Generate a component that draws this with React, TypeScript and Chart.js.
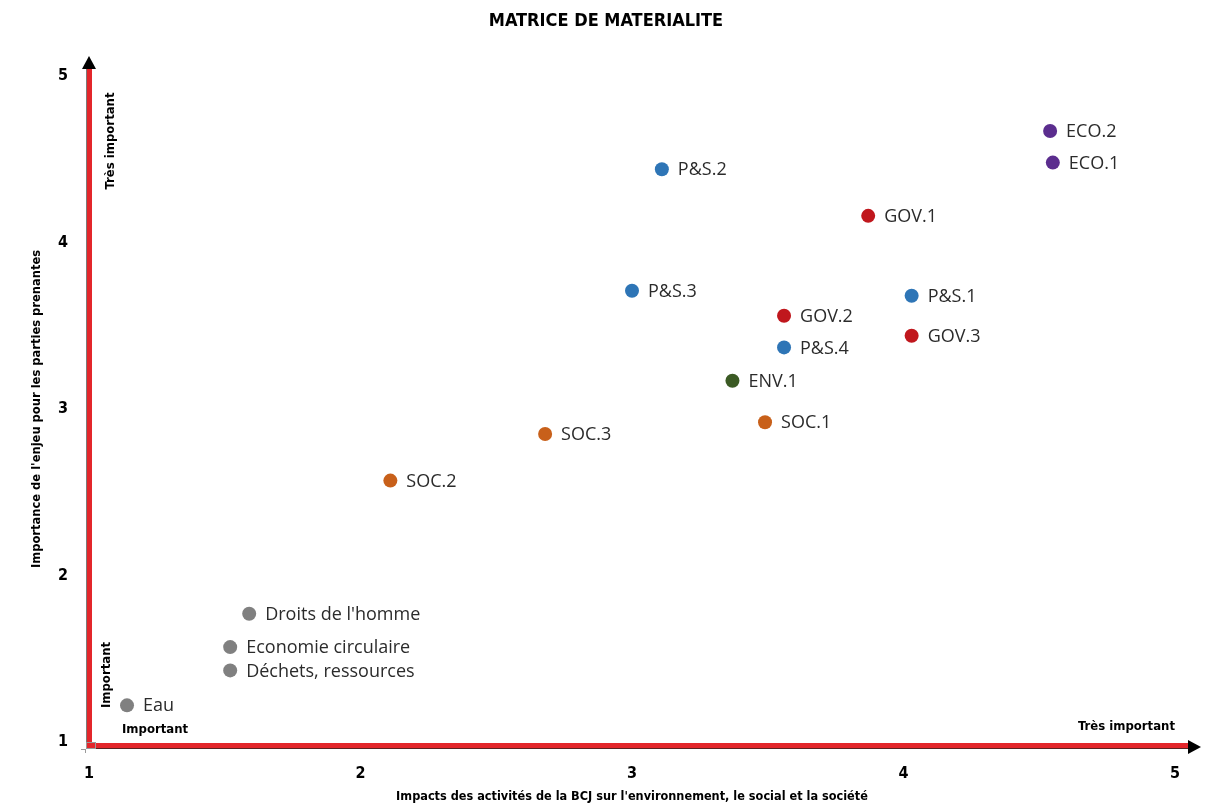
import React, { useEffect, useRef } from "react";
import { Chart, registerables } from "chart.js";

Chart.register(...registerables);

const pointNames = [
  "ECO.2", "ECO.1", "P&S.2", "GOV.1", "P&S.3", "P&S.1", "GOV.2", "GOV.3", "P&S.4",
  "ENV.1", "SOC.1", "SOC.3", "SOC.2", "Droits de l'homme", "Economie circulaire",
  "Déchets, ressources", "Eau",
];
const impactValues = [4.54, 4.55, 3.11, 3.87, 3.0, 4.03, 3.56, 4.03, 3.56, 3.37, 3.49, 2.68, 2.11, 1.59, 1.52, 1.52, 1.14];
const importanceValues = [4.67, 4.48, 4.44, 4.16, 3.71, 3.68, 3.56, 3.44, 3.37, 3.17, 2.92, 2.85, 2.57, 1.77, 1.57, 1.43, 1.22];
const pointGroups = ["ECO", "ECO", "PS", "GOV", "PS", "PS", "GOV", "GOV", "PS", "ENV", "SOC", "SOC", "SOC", "OTH", "OTH", "OTH", "OTH"];

const groupKeys = ["ECO", "PS", "GOV", "ENV", "SOC", "OTH"];
const groupColors = ["#5b2d8e", "#2e75b6", "#c0171d", "#3b5a24", "#c8601a", "#808080"];

const xTickLabels = ["1", "2", "3", "4", "5"];
const yTickLabels = ["1", "2", "3", "4", "5"];

const chartTitle = "MATRICE DE MATERIALITE";
const xAxisTitle = "Impacts des activités de la BCJ sur l'environnement, le social et la société";
const yAxisTitle = "Importance de l'enjeu pour les parties prenantes";

const NARROW = "'Liberation Sans Narrow', 'DejaVu Sans Condensed', sans-serif";
const LABEL_FONT = "'Open Sans', 'Noto Sans', sans-serif";

const decorPlugin = {
  id: "decor",
  beforeDatasetsDraw(chart: any) {
    const { ctx, chartArea } = chart;
    const ox = chartArea.left;
    const oy = chartArea.bottom + 4;
    ctx.save();
    // title, centred on the page
    ctx.fillStyle = "#000";
    ctx.font = "bold 18px " + NARROW;
    ctx.textAlign = "center";
    ctx.textBaseline = "middle";
    ctx.fillText(chartTitle, 606, 21);
    // vertical axis
    ctx.fillStyle = "#7a7a7a";
    ctx.fillRect(ox - 3, 68, 1, oy + 3 - 68);
    ctx.fillStyle = "#e3262b";
    ctx.fillRect(ox - 2, 68, 5, oy + 3 - 68);
    // horizontal axis
    ctx.fillStyle = "#e3262b";
    ctx.fillRect(ox - 3, oy - 3, 1190 - (ox - 3), 5);
    ctx.fillStyle = "#5a2222";
    ctx.fillRect(ox - 3, oy + 2, 1190 - (ox - 3), 1);
    // origin square
    ctx.strokeStyle = "#9a9a9a";
    ctx.lineWidth = 1;
    ctx.strokeRect(ox - 2.5, oy - 3.5, 9, 6);
    ctx.beginPath();
    ctx.moveTo(ox - 3.5, oy + 3);
    ctx.lineTo(ox - 3.5, oy + 7);
    ctx.moveTo(ox - 8, oy + 3.5);
    ctx.lineTo(ox - 3, oy + 3.5);
    ctx.stroke();
    // arrows
    ctx.fillStyle = "#000";
    ctx.beginPath();
    ctx.moveTo(ox, 56);
    ctx.lineTo(ox - 7, 69);
    ctx.lineTo(ox + 7, 69);
    ctx.closePath();
    ctx.fill();
    ctx.beginPath();
    ctx.moveTo(1201, oy + 1);
    ctx.lineTo(1188, oy - 6);
    ctx.lineTo(1188, oy + 8);
    ctx.closePath();
    ctx.fill();

    // annotations
    ctx.fillStyle = "#000";
    ctx.font = "bold 13px " + NARROW;
    ctx.textBaseline = "middle";
    ctx.textAlign = "left";
    ctx.fillText("Important", 122, 730);
    ctx.textAlign = "right";
    ctx.fillText("Très important", 1175, 727);
    ctx.save();
    ctx.translate(111, 141);
    ctx.rotate(-Math.PI / 2);
    ctx.textAlign = "center";
    ctx.fillText("Très important", 0, 0);
    ctx.restore();
    ctx.save();
    ctx.translate(107, 675);
    ctx.rotate(-Math.PI / 2);
    ctx.textAlign = "center";
    ctx.fillText("Important", 0, 0);
    ctx.restore();
    ctx.restore();
  },
  afterDatasetsDraw(chart: any) {
    const { ctx } = chart;
    ctx.save();
    ctx.font = "18px " + LABEL_FONT;
    ctx.fillStyle = "#2b2b2b";
    ctx.textAlign = "left";
    ctx.textBaseline = "middle";
    chart.data.datasets.forEach((ds: any, i: number) => {
      const meta = chart.getDatasetMeta(i);
      meta.data.forEach((el: any, j: number) => {
        ctx.fillText(ds.names[j], el.x + 16, el.y + 1);
      });
    });
    ctx.restore();
  },
};

export default function App() {
  const canvasRef = useRef<HTMLCanvasElement | null>(null);

  useEffect(() => {
    const canvas = canvasRef.current;
    if (!canvas) return;
    const datasets = groupKeys.map((g, gi) => {
      const idx = pointGroups.map((pg, i) => (pg === g ? i : -1)).filter((i) => i >= 0);
      return {
        label: g,
        names: idx.map((i) => pointNames[i]),
        data: idx.map((i) => ({ x: impactValues[i], y: importanceValues[i] })),
        backgroundColor: groupColors[gi],
        borderColor: groupColors[gi],
        pointRadius: 7,
        pointBorderWidth: 0,
      };
    });
    const chart = new Chart(canvas, {
      type: "scatter",
      data: { datasets } as any,
      options: {
        responsive: false,
        animation: false,
        layout: { padding: { top: 76, left: 0, right: 39, bottom: 0 } },
        plugins: {
          legend: { display: false },
          tooltip: { enabled: false },
          title: { display: false },
        },
        scales: {
          x: {
            type: "linear",
            min: 1,
            max: 5,
            afterFit: (s: any) => { s.height = 64; },
            grid: { display: false, drawTicks: false },
            border: { display: false },
            ticks: {
              stepSize: 1,
              padding: 22,
              color: "#000",
              font: { family: NARROW, size: 16, weight: "bold" },
              callback: (v: any) => xTickLabels[Number(v) - 1] ?? "",
            },
            title: {
              display: true,
              text: xAxisTitle,
              color: "#000",
              font: { family: NARROW, size: 12.6, weight: "bold" },
              padding: { top: 0, bottom: 1.5 },
            },
          },
          y: {
            type: "linear",
            min: 1,
            max: 5,
            afterFit: (s: any) => { s.width = 89; },
            grid: { display: false, drawTicks: false },
            border: { display: false },
            ticks: {
              stepSize: 1,
              padding: 21,
              color: "#000",
              font: { family: NARROW, size: 16, weight: "bold" },
              callback: (v: any) => yTickLabels[Number(v) - 1] ?? "",
            },
            title: {
              display: true,
              text: yAxisTitle,
              color: "#000",
              font: { family: NARROW, size: 12.8, weight: "bold" },
              padding: { top: 29.4, bottom: 0 },
            },
          },
        },
      } as any,
      plugins: [decorPlugin],
    });
    return () => chart.destroy();
  }, []);

  return (
    <div style={{ position: "absolute", left: 0, top: 0, width: 1214, height: 806, background: "#fff" }}>
      <canvas ref={canvasRef} width={1214} height={806} style={{ display: "block" }} />
    </div>
  );
}
